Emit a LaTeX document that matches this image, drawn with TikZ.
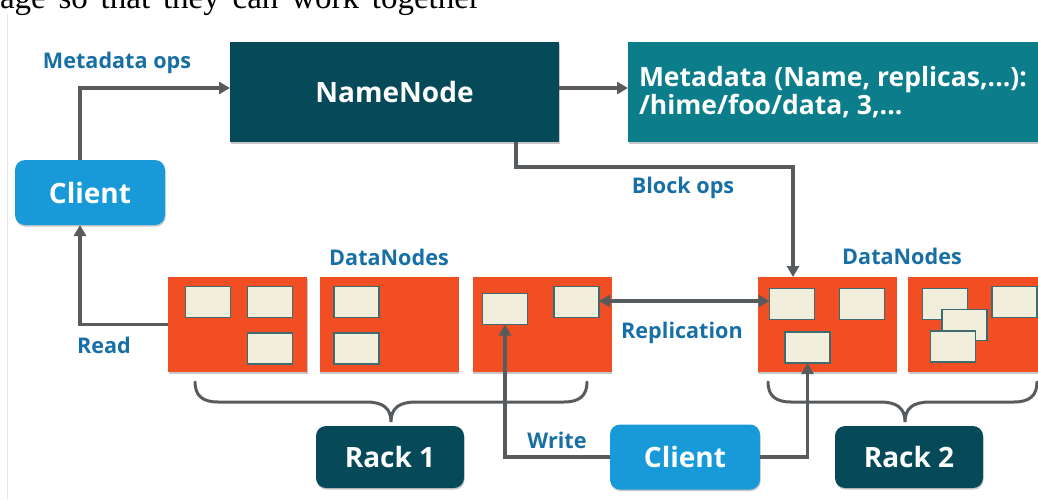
\documentclass[tikz,border=0pt]{standalone}
\usepackage{fontspec}
\setmainfont{Liberation Serif}
\newfontfamily\diagfont{Open Sans}
\usetikzlibrary{arrows.meta,shadows}

\definecolor{deepteal}{HTML}{064A5A}
\definecolor{metateal}{HTML}{0C7E8B}
\definecolor{skyblue}{HTML}{189AD8}
\definecolor{dnorange}{HTML}{F14E24}
\definecolor{blockfill}{HTML}{F1EEDC}
\definecolor{blockedge}{HTML}{3E6B70}
\definecolor{wire}{HTML}{575B5E}
\definecolor{captionblue}{HTML}{176FA6}
\definecolor{pagerule}{HTML}{E6E6E6}

\begin{document}
\begin{tikzpicture}[x=1pt,y=-1pt,
  every node/.style={inner sep=0pt,outer sep=0pt},
  softshadow/.style={drop shadow={shadow xshift=0.6pt,shadow yshift=-1.6pt,fill=black,opacity=0.22}},
  bigtext/.style={font=\diagfont\bfseries\fontsize{28}{30}\selectfont,text=white},
  namebox/.style={fill=deepteal,bigtext,minimum width=329,minimum height=100,softshadow},
  metabox/.style={fill=metateal,minimum width=430,minimum height=100,anchor=north west,softshadow},
  metatext/.style={font=\diagfont\bfseries\fontsize{26.5}{28}\selectfont,text=white,anchor=base west},
  clientbox/.style={fill=skyblue,bigtext,rounded corners=10pt,minimum width=150,minimum height=65,softshadow},
  rackbox/.style={fill=deepteal,bigtext,rounded corners=10pt,minimum width=148,minimum height=62,softshadow},
  dnbox/.style={fill=dnorange,minimum width=139,minimum height=95,softshadow},
  blockbox/.style={fill=blockfill,draw=blockedge,line width=1.6pt,minimum width=45,minimum height=31},
  caption/.style={font=\diagfont\bfseries\fontsize{21.6}{24}\selectfont,text=captionblue},
  link/.style={draw=wire,line width=3.2pt,-{Triangle[length=11pt,width=12pt]}},
  duallink/.style={draw=wire,line width=3.2pt,{Triangle[length=11pt,width=12pt]}-{Triangle[length=11pt,width=12pt]}},
  bracepen/.style={draw=wire,line width=3pt,line cap=round},
]
\useasboundingbox (0,0) rectangle (1038,499);

% running text of the page above the figure
\node[anchor=base west,font=\rmfamily\fontsize{33}{36}\selectfont,text=black] (intro) at (0,8)
  {\makebox[480pt][s]{age so that they can work together}};
\draw[pagerule,line width=1pt] (7.5,13) -- (7.5,499);

% master side
\node[namebox] (namenode) at (394.5,92) {NameNode};
\node[metabox] (meta) at (628,42) {};
\node[metatext] (metaline1) at (639,86) {Metadata (Name, replicas,...):};
\node[metatext] (metaline2) at (639,114) {/hime/foo/data, 3,...};

\node[clientbox] (client1) at (90,192.5) {Client};

% data nodes, rack 1
\node[dnbox] (dn11) at (237.5,324.5) {};
\node[dnbox] (dn12) at (389,324.5) {};
\node[dnbox] (dn13) at (542,324.5) {};
% data nodes, rack 2
\node[dnbox] (dn21) at (827,324.5) {};
\node[dnbox] (dn22) at (977.5,324.5) {};

% blocks
\node[blockbox] (b11a) at (208,302) {};
\node[blockbox] (b11b) at (270,302) {};
\node[blockbox] (b11c) at (270,348.5) {};
\node[blockbox] (b12a) at (356.5,302) {};
\node[blockbox] (b12b) at (356.5,348.5) {};
\node[blockbox] (b13a) at (505,309) {};
\node[blockbox] (b13b) at (576.5,302) {};
\node[blockbox] (b21a) at (792,304) {};
\node[blockbox] (b21b) at (862,304) {};
\node[blockbox] (b21c) at (807.5,347.5) {};
\node[blockbox] (b22a) at (945,304) {};
\node[blockbox] (b22b) at (964.5,325) {};
\node[blockbox] (b22c) at (953,346.5) {};
\node[blockbox] (b22d) at (1014.5,302) {};

% racks and the writing client
\node[rackbox] (rack1) at (390,457) {Rack 1};
\node[rackbox] (rack2) at (909,457) {Rack 2};
\node[clientbox] (client2) at (685,457) {Client};

% captions
\node[caption] (lblmeta) at (117,63) {Metadata ops};
\node[caption] (lblblock) at (683,188) {Block ops};
\node[caption] (lbldn1) at (389,257) {DataNodes};
\node[caption] (lbldn2) at (902,256) {DataNodes};
\node[caption] (lblrepl) at (682,333) {Replication};
\node[caption] (lblread) at (104,345) {Read};
\node[caption] (lblwrite) at (557,440) {Write};

% connectors
\draw[link] ([xshift=-10pt]client1.north) |- ([yshift=4pt]namenode.west);
\draw[link] ([yshift=4pt]namenode.east) -- ([yshift=4pt]meta.west);
\draw[link] ([xshift=121.5pt]namenode.south) -- ++(0,25) -| ([xshift=-34pt]dn21.north);
\draw[link] (dn11.west) -| ([xshift=-10pt]client1.south);
\draw[duallink] ([yshift=1pt]b13b.east) -- ([yshift=1pt]b13b.east -| b21a.west);
\draw[link] (client2.west) -| (b13a.south);
\draw[link] (client2.east) -| (b21c.south);

% braces grouping the racks
\coordinate (r1l) at (195,382);
\coordinate (r1tip) at (391,422);
\coordinate (r1r) at (587,382);
\draw[bracepen] (r1l) .. controls (195,396) and (203,402) .. (218,402) -- (366,402)
  .. controls (383,402) and (391,408) .. (r1tip)
  .. controls (391,408) and (399,402) .. (416,402) -- (564,402)
  .. controls (579,402) and (587,396) .. (r1r);
\coordinate (r2l) at (768,382);
\coordinate (r2tip) at (905,422);
\coordinate (r2r) at (1037,382);
\draw[bracepen] (r2l) .. controls (768,396) and (776,402) .. (791,402) -- (880,402)
  .. controls (897,402) and (905,408) .. (r2tip)
  .. controls (905,408) and (913,402) .. (930,402) -- (1014,402)
  .. controls (1029,402) and (1037,396) .. (r2r);
\end{tikzpicture}
\end{document}
